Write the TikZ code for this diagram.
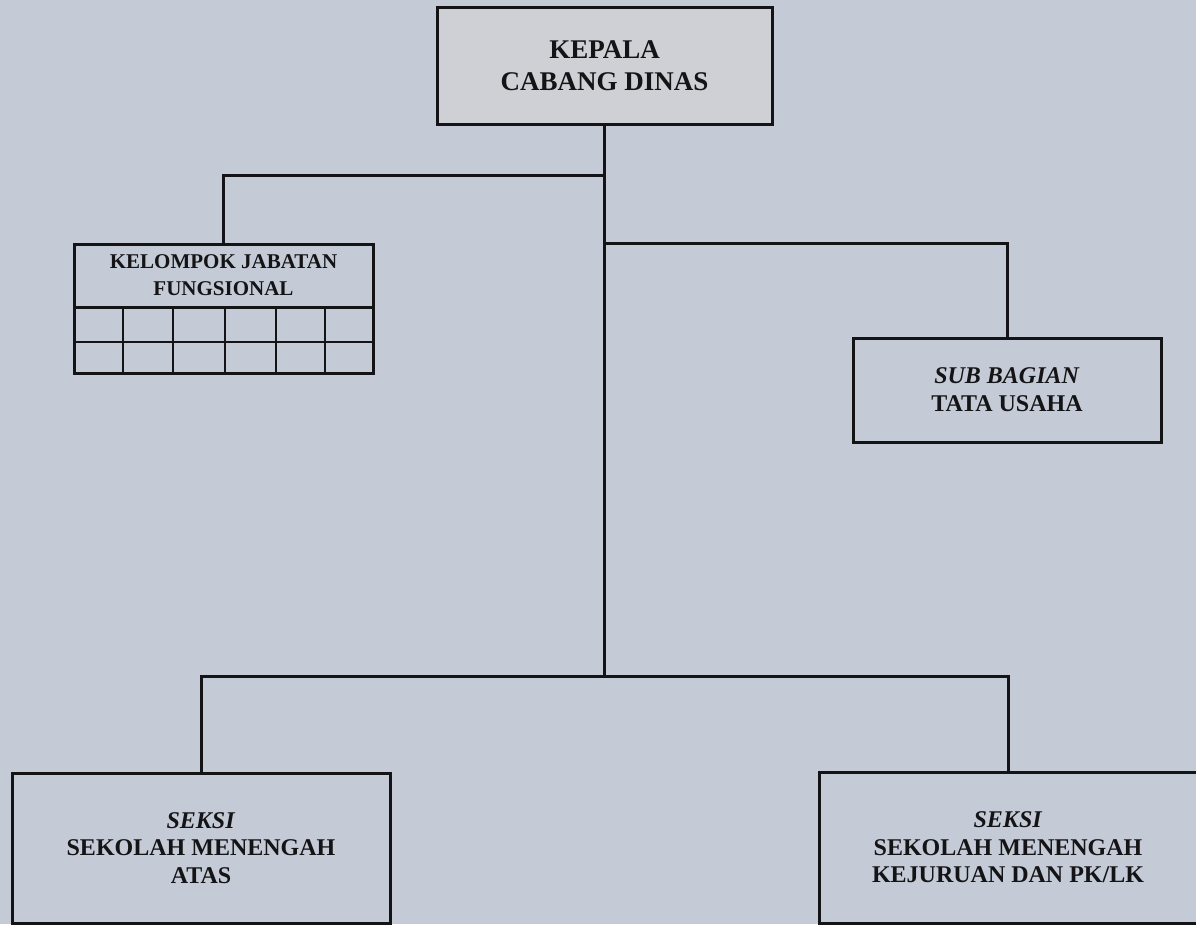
\documentclass[tikz,border=0pt]{standalone}
\usepackage{fontspec}
\setmainfont{Liberation Serif}
\definecolor{bgc}{RGB}{197,203,214}
\definecolor{topc}{RGB}{206,208,213}
\definecolor{ink}{RGB}{20,20,22}
\begin{document}
\begin{tikzpicture}[x=1pt,y=-1pt,
  box/.style={draw=ink, line width=3pt, align=center, text=ink, inner sep=0pt, outer sep=0pt, anchor=center},
  conn/.style={draw=ink, line width=3pt},
  gridline/.style={draw=ink, line width=2.5pt}]
\useasboundingbox (0,0) rectangle (1196,924);
\fill[bgc] (0,0) rectangle (1196,924);
\clip (0,0) rectangle (1196,924);

\node[box, fill=topc, minimum width=335pt, minimum height=117pt,
  font=\bfseries\fontsize{27}{32}\selectfont] (kepala) at (604.5,65.5) {KEPALA\\CABANG DINAS};

\node[box, minimum width=299pt, minimum height=63pt,
  font=\bfseries\fontsize{21}{27}\selectfont] (kjf) at (223.5,275.5) {KELOMPOK JABATAN\\FUNGSIONAL};
\draw[conn] (kjf.south west) rectangle ([yshift=-66pt]kjf.south east);
\draw[gridline] ([yshift=-35pt]kjf.south west) -- ([yshift=-35pt]kjf.south east);
\foreach \x in {49,99,151,202,251}
  \draw[gridline] ([xshift=\x pt]kjf.south west) -- ++(0,66);

\node[box, minimum width=308pt, minimum height=104pt,
  font=\bfseries\fontsize{24}{28}\selectfont] (sub) at (1007,390) {\textit{SUB BAGIAN}\\TATA USAHA};

\node[box, minimum width=378pt, minimum height=150pt,
  font=\bfseries\fontsize{24}{27.5}\selectfont] (sma) at (201,848) {\textit{SEKSI}\\SEKOLAH MENENGAH\\ATAS};

\node[box, minimum width=378pt, minimum height=151pt,
  font=\bfseries\fontsize{24}{27.5}\selectfont] (smk) at (1008,847.5) {\textit{SEKSI}\\SEKOLAH MENENGAH\\KEJURUAN DAN PK/LK};

\path (kepala.south) ++(0,51) coordinate (j1);
\path (kepala.south) ++(0,119) coordinate (j2);
\path (kepala.south) ++(0,552) coordinate (j3);

\draw[conn] (kepala.south) -- (j3);
\draw[conn] (j1) -| (kjf.north);
\draw[conn] (j2) -| (sub.north);
\draw[conn] (sma.north) |- (j3) -| (smk.north);
\end{tikzpicture}
\end{document}
